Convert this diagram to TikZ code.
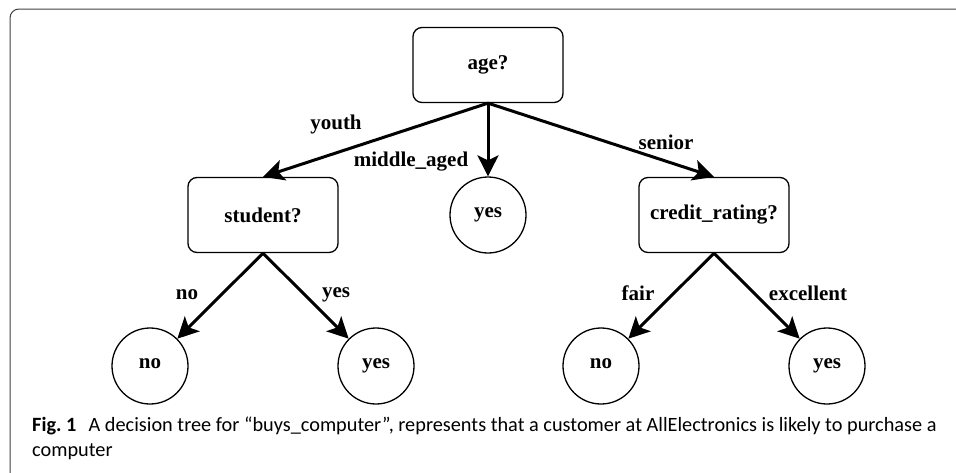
\documentclass[tikz,border=0pt]{standalone}
\usepackage{fontspec}
\setmainfont{Liberation Serif}
\newfontfamily\capfont{Carlito}
\usetikzlibrary{arrows.meta}
\tikzset{
	testbox/.style={draw, line width=1.3pt, rounded corners=9pt,
		minimum width=150pt, minimum height=75pt, font=\fontsize{21}{24}\selectfont\bfseries},
	leaf/.style={draw, circle, line width=1.3pt, minimum size=76pt, inner sep=0pt,
		text height=1ex, text depth=0pt, font=\fontsize{21}{24}\selectfont\bfseries},
	branch/.style={line width=3pt, -{Stealth[length=21pt, width=21pt, inset=5pt]}},
	edgelabel/.style={font=\fontsize{21}{24}\selectfont\bfseries, inner sep=0pt}
}

\begin{document}
\begin{tikzpicture}[x=1pt, y=1pt]
	\useasboundingbox (0,0) rectangle (956,-472);

	% frame of the figure
	\draw[color=black!75, line width=1pt, rounded corners=9pt]
		(10,-9) rectangle (990,-500);

	% tests
	\node[testbox] (age) at (488,-65) {age?};
	\node[testbox] (student) at (263,-215) {student?};
	\node[testbox] (credit) at (714,-215) {credit\_rating?};

	% leaves
	\node[leaf] (midyes) at (488,-215) {yes};
	\node[leaf] (stuno) at (150,-366) {no};
	\node[leaf] (stuyes) at (376,-366) {yes};
	\node[leaf] (crno) at (601,-366) {no};
	\node[leaf] (cryes) at (827,-366) {yes};

	% branches
	\draw[branch] (age.south) -- (student.north);
	\draw[branch] (age.south) -- (midyes);
	\draw[branch] (age.south) -- (credit.north);
	\draw[branch] (student.south) -- (stuno);
	\draw[branch] (student.south) -- (stuyes);
	\draw[branch] (credit.south) -- (crno);
	\draw[branch] (credit.south) -- (cryes);

	% branch labels
	\node[edgelabel] (lyouth) at (336,-124) {youth};
	\node[edgelabel] (lmiddle) at (411,-162) {middle\_aged};
	\node[edgelabel] (lsenior) at (666,-142) {senior};
	\node[edgelabel] (lno) at (187,-295) {no};
	\node[edgelabel] (lyes) at (336,-295) {yes};
	\node[edgelabel] (lfair) at (638,-293) {fair};
	\node[edgelabel] (lexc) at (808,-293) {excellent};

	% caption (base anchor sits on the last line)
	\node[anchor=base west, align=left, inner sep=0pt,
		font=\capfont\fontsize{20.3}{25}\selectfont] (caption) at (32,-456)
		{\textbf{Fig.\ 1}\hspace{0.6em}A decision tree for “buys\_computer”, represents that a customer at AllElectronics is likely to purchase a\\
		computer};
\end{tikzpicture}
\end{document}
